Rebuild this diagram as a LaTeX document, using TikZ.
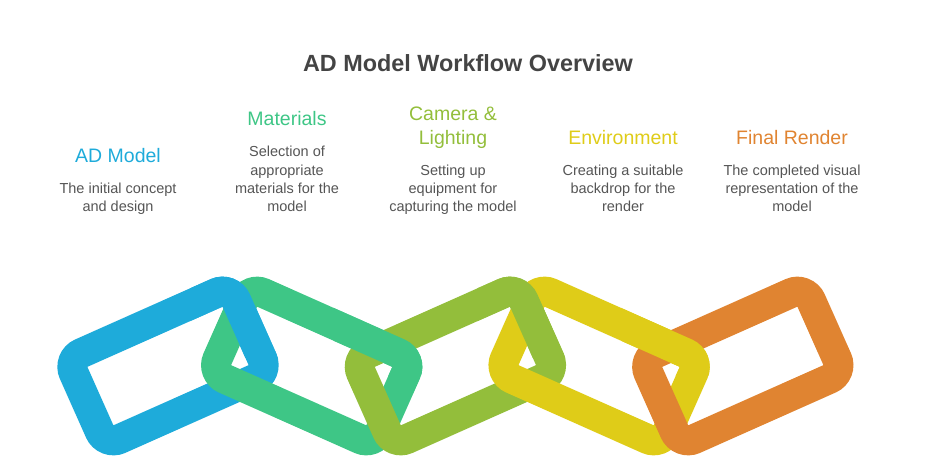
\documentclass[tikz,border=0pt]{standalone}
\usepackage{fontspec}
\setmainfont{Liberation Sans}
\definecolor{adblue}{HTML}{1EABDA}
\definecolor{matgreen}{HTML}{3EC686}
\definecolor{camolive}{HTML}{93BE3B}
\definecolor{envyellow}{HTML}{DFCC18}
\definecolor{renorange}{HTML}{E08431}
\definecolor{titlegray}{HTML}{444444}
\definecolor{bodygray}{HTML}{555555}
\tikzset{
	link/.style={line width=30pt, rounded corners=15pt},
	heading/.style={font=\fontsize{19.5}{24}\selectfont, align=center, inner sep=0pt, text depth=0pt, anchor=south},
	desc/.style={font=\fontsize{14.5}{18.3}\selectfont, text=bodygray, align=center, inner sep=0pt, text depth=0pt, anchor=south}
}
\begin{document}
\begin{tikzpicture}[x=1pt,y=1pt]
	\useasboundingbox (0,0) rectangle (936,-470);
	\node[font=\fontsize{23.4}{28}\selectfont\bfseries, text=titlegray, anchor=base] (title) at (468,-72) {AD Model Workflow Overview};
	% steps
	\node[desc] (d1) at (118,-212) {The initial concept\\and design};
	\node[heading, text=adblue] (h1) at (118,-162.7) {AD Model};
	\node[desc] (d2) at (287,-212) {Selection of\\appropriate\\materials for the\\model};
	\node[heading, text=matgreen] (h2) at (287,-126.1) {Materials};
	\node[desc] (d3) at (453,-212) {Setting up\\equipment for\\capturing the model};
	\node[heading, text=camolive] (h3) at (453,-144.4) {Camera \&\\Lighting};
	\node[desc] (d4) at (623,-212) {Creating a suitable\\backdrop for the\\render};
	\node[heading, text=envyellow] (h4) at (623,-144.4) {Environment};
	\node[desc] (d5) at (792,-212) {The completed visual\\representation of the\\model};
	\node[heading, text=renorange] (h5) at (792,-144.4) {Final Render};
	% chain
	\coordinate (L1) at (168,-366);
	\coordinate (L2) at (311.7,-366);
	\coordinate (L3) at (455.4,-366);
	\coordinate (L4) at (599.1,-366);
	\coordinate (L5) at (742.8,-366);
	\foreach \c/\a/\col in {L1/24/adblue, L2/-24/matgreen, L3/24/camolive, L4/-24/envyellow, L5/24/renorange}
		\draw[link, \col, shift={(\c)}, rotate=\a] (-89,-47) rectangle (89,47);
	% left link back on top at the upper crossing
	\foreach \c/\a/\col/\xm/\yb in {L1/24/adblue/239.85/-357, L2/-24/matgreen/383.55/-375, L3/24/camolive/527.25/-357, L4/-24/envyellow/670.95/-375}
	{
		\begin{scope}
			\clip (\xm-50,\yb) rectangle (\xm+50,-255);
			\draw[link, \col, shift={(\c)}, rotate=\a] (-89,-47) rectangle (89,47);
		\end{scope}
	}
\end{tikzpicture}
\end{document}
